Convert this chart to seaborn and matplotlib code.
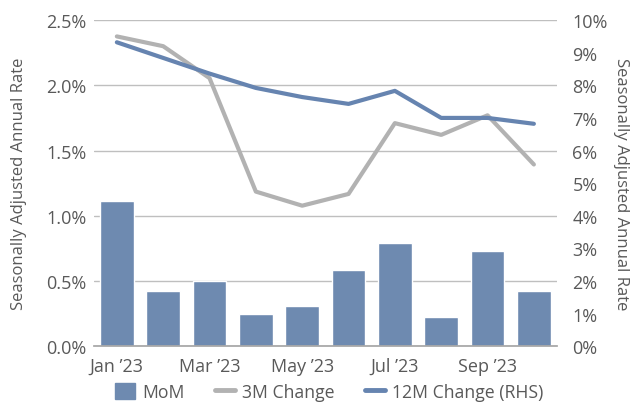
import matplotlib
matplotlib.use("Agg")
import matplotlib.pyplot as plt
import seaborn as sns
import numpy as np
import pandas as pd
from matplotlib.patches import Patch
from matplotlib.lines import Line2D
from matplotlib.ticker import FuncFormatter, MultipleLocator

months = ["Jan \u201923", "Feb \u201923", "Mar \u201923", "Apr \u201923", "May \u201923",
          "Jun \u201923", "Jul \u201923", "Aug \u201923", "Sep \u201923", "Oct \u201923"]
mom = [1.11, 0.42, 0.50, 0.25, 0.31, 0.58, 0.79, 0.22, 0.73, 0.42]
chg_3m = [2.375, 2.30, 2.055, 1.185, 1.077, 1.167, 1.71, 1.62, 1.77, 1.393]
chg_12m = [9.32, 8.84, 8.36, 7.92, 7.64, 7.43, 7.83, 7.0, 7.0, 6.82]

bar_color = "#6E8AB0"
line12_color = "#6684B0"
gray_color = "#B2B2B2"
text_color = "#595959"

sns.set_theme(style="white")
plt.rcParams["font.family"] = ["Open Sans", "DejaVu Sans"]

df = pd.DataFrame({"month": months, "mom": mom, "m3": chg_3m, "m12": chg_12m})
df["pos"] = np.arange(len(df))

fig = plt.figure(figsize=(6.33, 4.06), dpi=100)
ax = fig.add_axes([0.148, 0.145, 0.732, 0.803])

sns.barplot(data=df, x="month", y="mom", color=bar_color, width=0.73,
            saturation=1, ax=ax, zorder=2)
sns.lineplot(data=df, x="pos", y="m3", color=gray_color, linewidth=3,
             ax=ax, zorder=3)

ax2 = ax.twinx()
sns.lineplot(data=df, x="pos", y="m12", color=line12_color, linewidth=3,
             ax=ax2, zorder=3)

ax.set_ylim(0, 2.5)
ax2.set_ylim(0, 10)
ax.set_xlim(-0.5, len(df) - 0.5)
ax.yaxis.set_major_locator(MultipleLocator(0.5))
ax2.yaxis.set_major_locator(MultipleLocator(1))
ax.yaxis.set_major_formatter(FuncFormatter(lambda v, p: f"{v:.1f}%"))
ax2.yaxis.set_major_formatter(FuncFormatter(lambda v, p: f"{v:.0f}%"))

ax.set_xticks(df["pos"][::2])
ax.set_xticklabels(df["month"][::2])
ax.grid(axis="y", color="#BFBFBF", linewidth=1, zorder=0)
ax.set_axisbelow(True)

for a in (ax, ax2):
    for s in ("left", "right", "top"):
        a.spines[s].set_visible(False)
    a.tick_params(length=0, labelsize=13, colors=text_color)
ax.tick_params(axis="y", pad=5)
ax.tick_params(axis="x", pad=8)
ax2.tick_params(axis="y", pad=11)
ax.spines["bottom"].set_color("#A6A6A6")
ax2.spines["bottom"].set_visible(False)

ax.set_xlabel("")
ax.set_ylabel("Seasonally Adjusted Annual Rate", fontsize=12, color=text_color, labelpad=14)
ax2.set_ylabel("Seasonally Adjusted Annual Rate", fontsize=12, color=text_color,
               rotation=270, labelpad=15)

handles = [Patch(color=bar_color, label="MoM"),
           Line2D([], [], color=gray_color, linewidth=3.5, label="3M Change"),
           Line2D([], [], color=line12_color, linewidth=3.5, label="12M Change (RHS)")]
leg = fig.legend(handles=handles, loc="lower center", bbox_to_anchor=(0.52, -0.03),
                 ncol=3, frameon=False, fontsize=12.7, handlelength=1.15,
                 handleheight=1.0, columnspacing=1.7, handletextpad=0.4)
for t in leg.get_texts():
    t.set_color(text_color)

plt.savefig("out.png", dpi=100)
plt.close()
